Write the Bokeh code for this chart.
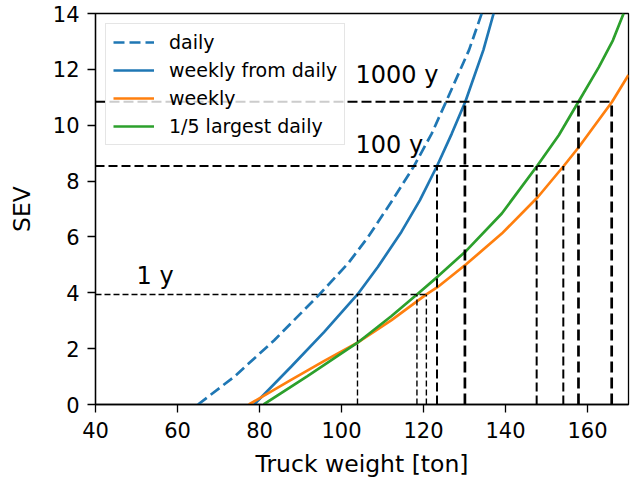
from bokeh.plotting import figure
from bokeh.models import Range1d, Legend, LegendItem
from bokeh.embed import file_html
from bokeh.resources import INLINE
from bokeh.core.properties import value

# ---- data ----
daily_x = [65.0, 73.8, 83.6, 94.6, 101.6, 106.5, 112.4, 117.7, 122.0, 125.5, 131.1, 134.2]
daily_y = [0.0, 0.99, 2.30, 3.94, 5.05, 6.0, 7.31, 8.54, 9.7, 10.84, 12.69, 14.0]

wfd_x = [78.7, 87.7, 95.8, 103.9, 108.9, 114.6, 119.1, 123.3, 126.9, 130.2, 134.6, 137.1]
wfd_y = [0.0, 1.35, 2.6, 3.94, 4.93, 6.18, 7.31, 8.54, 9.7, 10.84, 12.69, 14.0]

weekly_x = [77.4, 87.7, 95.8, 104.0, 112.2, 120.7, 123.4, 130.4, 139.1, 147.9, 154.2, 157.9, 166.0, 170.0]
weekly_y = [0.0, 0.88, 1.56, 2.22, 3.02, 3.94, 4.2, 5.02, 6.12, 7.43, 8.54, 9.22, 10.84, 11.8]

fifth_x = [81.0, 91.7, 104.0, 112.2, 118.4, 123.4, 130.4, 139.1, 147.7, 153.0, 157.8, 162.8, 166.2, 168.8]
fifth_y = [0.0, 1.02, 2.22, 3.17, 3.94, 4.57, 5.5, 6.84, 8.54, 9.64, 10.84, 12.09, 13.04, 14.0]

levels = [3.94, 8.54, 10.84]
level_labels = ["1 y", "100 y", "1000 y"]
level_label_x = [50.0, 103.4, 103.4]
level_label_y = [4.6, 9.3, 11.8]
cross_x = [[103.9, 118.4, 120.7], [123.3, 147.6, 154.1], [130.1, 157.8, 165.9]]

x_ticks = [40, 60, 80, 100, 120, 140, 160]
y_ticks = [0, 2, 4, 6, 8, 10, 12, 14]

# ---- styles ----
BLUE = "#1f77b4"
ORANGE = "#ff7f0e"
GREEN = "#2ca02c"
FONT = "DejaVu Sans"

p = figure(width=632, height=480, output_backend="svg", toolbar_location=None,
           x_range=Range1d(40, 170), y_range=Range1d(0, 14),
           min_border_left=95, min_border_right=4, min_border_top=13, min_border_bottom=76)
p.grid.visible = False
p.outline_line_color = "black"
p.outline_line_width = 1.3
p.background_fill_color = "white"
p.border_fill_color = "white"

for ax in (p.xaxis[0], p.yaxis[0]):
    ax.axis_line_width = 1.3
    ax.axis_line_color = "black"
    ax.major_tick_line_width = 1.3
    ax.major_tick_out = 8
    ax.major_tick_in = 0
    ax.minor_tick_out = 0
    ax.minor_tick_in = 0
    ax.major_label_text_font = FONT
    ax.major_label_text_font_size = "21px"
    ax.major_label_text_color = "black"
    ax.axis_label_text_font = FONT
    ax.axis_label_text_font_size = "23.5px"
    ax.axis_label_text_font_style = "normal"
    ax.axis_label_text_color = "black"

p.xaxis.ticker = x_ticks
p.yaxis.ticker = y_ticks
p.xaxis.axis_label = "Truck weight [ton]"
p.yaxis.axis_label = "SEV"
p.xaxis.major_label_standoff = 9
p.yaxis.major_label_standoff = 8
p.xaxis.axis_label_standoff = 9
p.yaxis.axis_label_standoff = 14

# curves
r_daily = p.line(daily_x, daily_y, line_color=BLUE, line_width=2.7, line_dash="11 5")
r_wfd = p.line(wfd_x, wfd_y, line_color=BLUE, line_width=2.7)
r_week = p.line(weekly_x, weekly_y, line_color=ORANGE, line_width=2.7)
r_fifth = p.line(fifth_x, fifth_y, line_color=GREEN, line_width=2.7)

# return-period lines
h_widths = [1.4, 2.0, 2.0]
v_widths = [1.4, 2.0, 2.7]
h_dashes = ["6 3", "9 4", "10 4"]
v_dashes = ["6 3", "9 4", "11 5"]
for lev, xs, hw, vw, hd, vd in zip(levels, cross_x, h_widths, v_widths, h_dashes, v_dashes):
    p.segment(x0=[40], y0=[lev], x1=[max(xs)], y1=[lev], line_color="black",
              line_width=hw, line_dash=hd)
    p.segment(x0=xs, y0=[0] * len(xs), x1=xs, y1=[lev] * len(xs), line_color="black",
              line_width=vw, line_dash=vd)

p.text(x=level_label_x, y=level_label_y, text=level_labels, text_font=value(FONT),
       text_font_size="24px", text_color="black", text_baseline="alphabetic",
       text_align="left")

legend = Legend(items=[
    LegendItem(label="daily", renderers=[r_daily]),
    LegendItem(label="weekly from daily", renderers=[r_wfd]),
    LegendItem(label="weekly", renderers=[r_week]),
    LegendItem(label="1/5 largest daily", renderers=[r_fifth]),
], location="top_left")
legend.label_text_font = FONT
legend.label_text_font_size = "19px"
legend.label_text_color = "black"
legend.glyph_width = 41
legend.glyph_height = 20
legend.label_height = 20
legend.spacing = 6
legend.padding = 7
legend.margin = 10
legend.label_standoff = 15
legend.border_line_color = "#cccccc"
legend.border_line_width = 1.3
legend.background_fill_alpha = 0.8
p.add_layout(legend)

open("out.html", "w").write(file_html(p, INLINE))
